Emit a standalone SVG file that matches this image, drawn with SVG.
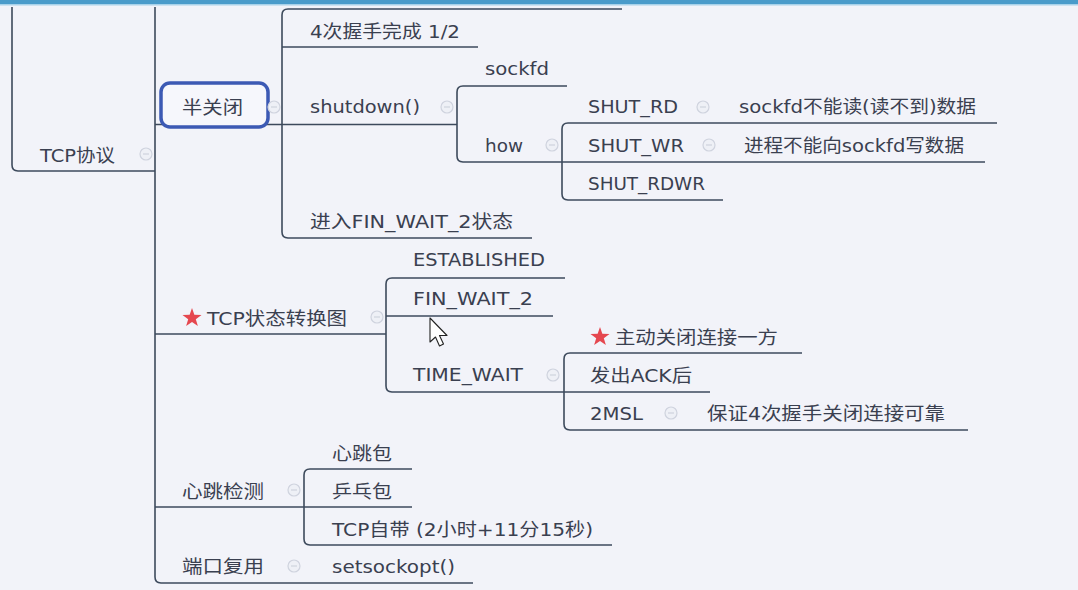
<svg xmlns="http://www.w3.org/2000/svg" width="1078" height="590" viewBox="0 0 1078 590">
<defs>
<style>
.t{font-family:"DejaVu Sans","Noto Sans CJK SC",sans-serif;font-size:18px;fill:#3a4050}
.ln{stroke:#3d4a5c;stroke-width:1.6;fill:none}
.ic{fill:#eef0f6;stroke:#cfd3de;stroke-width:1.2}
.icm{stroke:#cfd3de;stroke-width:1.2}
.star{fill:#e5474f}
</style>
<g id="collapse"><circle class="ic" cx="0" cy="0" r="6"/><line class="icm" x1="-3" y1="0" x2="3" y2="0"/></g>
<path id="starshape" d="M0,-10 L2.35,-3.24 L9.51,-3.09 L3.8,1.24 L5.88,8.09 L0,4 L-5.88,8.09 L-3.8,1.24 L-9.51,-3.09 L-2.35,-3.24 Z"/>
</defs>
<rect x="0" y="0" width="1078" height="590" fill="#f2f3f9"/>
<rect x="0" y="0" width="1078" height="4" fill="#4a9bca"/>
<rect x="0" y="4" width="1078" height="1.5" fill="#a8d2ea"/>

<g id="connectors">
<path class="ln" d="M12 7 V165 Q12 171 18 171"/>
<path class="ln" d="M155 7 V577 Q155 583 161 583"/>
<path class="ln" d="M622 9 H288 Q282 9 282 15 V232 Q282 238 288 238"/>
<path class="ln" d="M567 86 H463 Q457 86 457 92 V156 Q457 162 463 162"/>
<path class="ln" d="M568 123 Q562 123 562 129 V194 Q562 200 568 200"/>
<path class="ln" d="M565 278 H392 Q386 278 386 284 V386 Q386 392 392 392"/>
<path class="ln" d="M570 353 Q564 353 564 359 V424 Q564 430 570 430"/>
<path class="ln" d="M310 469 Q304 469 304 475 V539 Q304 545 310 545"/>
</g>

<g id="n-root">
<line class="ln" x1="18" y1="171" x2="155" y2="171"/>
<text class="t" x="40" y="162" textLength="75" lengthAdjust="spacingAndGlyphs">TCP协议</text>
<use href="#collapse" x="146" y="154"/>
</g>

<g id="n-banguanbi">
<line class="ln" x1="155" y1="124.5" x2="282" y2="124.5"/>
<rect x="161" y="83" width="107" height="44" rx="9" fill="#f6f7fc" stroke="#3c5ab4" stroke-width="3.5"/>
<text class="t" x="182" y="114" textLength="61" lengthAdjust="spacingAndGlyphs">半关闭</text>
<use href="#collapse" x="274" y="107"/>
</g>

<g id="n-4ci">
<line class="ln" x1="282" y1="47" x2="478" y2="47"/>
<text class="t" x="310" y="38" textLength="150" lengthAdjust="spacingAndGlyphs">4次握手完成 1/2</text>
</g>

<g id="n-shutdown">
<line class="ln" x1="282" y1="124.5" x2="457" y2="124.5"/>
<text class="t" x="310" y="113" textLength="110" lengthAdjust="spacingAndGlyphs">shutdown()</text>
<use href="#collapse" x="447" y="107"/>
</g>

<g id="n-sockfd">
<text class="t" x="485" y="75" textLength="64" lengthAdjust="spacingAndGlyphs">sockfd</text>
</g>

<g id="n-how">
<line class="ln" x1="463" y1="162" x2="562" y2="162"/>
<text class="t" x="485" y="152" textLength="38" lengthAdjust="spacingAndGlyphs">how</text>
<use href="#collapse" x="552" y="145"/>
</g>

<g id="n-shutrd">
<line class="ln" x1="568" y1="123" x2="997" y2="123"/>
<text class="t" x="588" y="113" textLength="90" lengthAdjust="spacingAndGlyphs">SHUT_RD</text>
<use href="#collapse" x="703" y="107"/>
</g>

<g id="n-shutrd-desc">
<text class="t" x="739" y="113" textLength="237" lengthAdjust="spacingAndGlyphs">sockfd不能读(读不到)数据</text>
</g>

<g id="n-shutwr">
<line class="ln" x1="562" y1="162" x2="985" y2="162"/>
<text class="t" x="588" y="152" textLength="96" lengthAdjust="spacingAndGlyphs">SHUT_WR</text>
<use href="#collapse" x="709" y="145"/>
</g>

<g id="n-shutwr-desc">
<text class="t" x="744" y="152" textLength="220" lengthAdjust="spacingAndGlyphs">进程不能向sockfd写数据</text>
</g>

<g id="n-shutrdwr">
<line class="ln" x1="568" y1="200" x2="723" y2="200"/>
<text class="t" x="588" y="190" textLength="117" lengthAdjust="spacingAndGlyphs">SHUT_RDWR</text>
</g>

<g id="n-finwait2state">
<line class="ln" x1="288" y1="238" x2="532" y2="238"/>
<text class="t" x="310" y="228" textLength="203" lengthAdjust="spacingAndGlyphs">进入FIN_WAIT_2状态</text>
</g>

<g id="n-tcpstate">
<line class="ln" x1="155" y1="334" x2="386" y2="334"/>
<use href="#starshape" class="star" x="192" y="318"/>
<text class="t" x="207" y="325" textLength="140" lengthAdjust="spacingAndGlyphs">TCP状态转换图</text>
<use href="#collapse" x="377" y="317"/>
</g>

<g id="n-established">
<text class="t" x="413" y="266" textLength="132" lengthAdjust="spacingAndGlyphs">ESTABLISHED</text>
</g>

<g id="n-finwait2">
<line class="ln" x1="386" y1="316" x2="553" y2="316"/>
<text class="t" x="413" y="305" textLength="120" lengthAdjust="spacingAndGlyphs">FIN_WAIT_2</text>
</g>

<g id="n-timewait">
<line class="ln" x1="392" y1="392" x2="564" y2="392"/>
<text class="t" x="413" y="381" textLength="110" lengthAdjust="spacingAndGlyphs">TIME_WAIT</text>
<use href="#collapse" x="553" y="375"/>
</g>

<g id="n-active">
<line class="ln" x1="570" y1="353" x2="802" y2="353"/>
<use href="#starshape" class="star" x="600" y="337"/>
<text class="t" x="615" y="344" textLength="163" lengthAdjust="spacingAndGlyphs">主动关闭连接一方</text>
</g>

<g id="n-ack">
<line class="ln" x1="564" y1="392" x2="710" y2="392"/>
<text class="t" x="590" y="382" textLength="102" lengthAdjust="spacingAndGlyphs">发出ACK后</text>
</g>

<g id="n-2msl">
<line class="ln" x1="570" y1="430" x2="968" y2="430"/>
<text class="t" x="590" y="420" textLength="53" lengthAdjust="spacingAndGlyphs">2MSL</text>
<use href="#collapse" x="671" y="413"/>
</g>

<g id="n-2msl-desc">
<text class="t" x="707" y="420" textLength="238" lengthAdjust="spacingAndGlyphs">保证4次握手关闭连接可靠</text>
</g>

<g id="n-heartbeat">
<line class="ln" x1="155" y1="507" x2="304" y2="507"/>
<text class="t" x="182" y="498" textLength="82" lengthAdjust="spacingAndGlyphs">心跳检测</text>
<use href="#collapse" x="294" y="490"/>
</g>

<g id="n-xintiaobao">
<line class="ln" x1="310" y1="469" x2="412" y2="469"/>
<text class="t" x="332" y="460" textLength="60" lengthAdjust="spacingAndGlyphs">心跳包</text>
</g>

<g id="n-pingpong">
<line class="ln" x1="304" y1="507" x2="412" y2="507"/>
<text class="t" x="332" y="498" textLength="60" lengthAdjust="spacingAndGlyphs">乒乓包</text>
</g>

<g id="n-tcpbuiltin">
<line class="ln" x1="310" y1="545" x2="612" y2="545"/>
<text class="t" x="332" y="536" textLength="261" lengthAdjust="spacingAndGlyphs">TCP自带 (2小时+11分15秒)</text>
</g>

<g id="n-portreuse">
<line class="ln" x1="161" y1="583" x2="473" y2="583"/>
<text class="t" x="182" y="573" textLength="82" lengthAdjust="spacingAndGlyphs">端口复用</text>
<use href="#collapse" x="294" y="566"/>
</g>

<g id="n-setsockopt">
<text class="t" x="332" y="573" textLength="123" lengthAdjust="spacingAndGlyphs">setsockopt()</text>
</g>

<path d="M430 318 L430 342 L435.5 337 L439.5 346 L443.5 344 L439.5 335.5 L447 335.5 Z" fill="#ffffff" stroke="#222" stroke-width="1.1" stroke-linejoin="round"/>
</svg>
